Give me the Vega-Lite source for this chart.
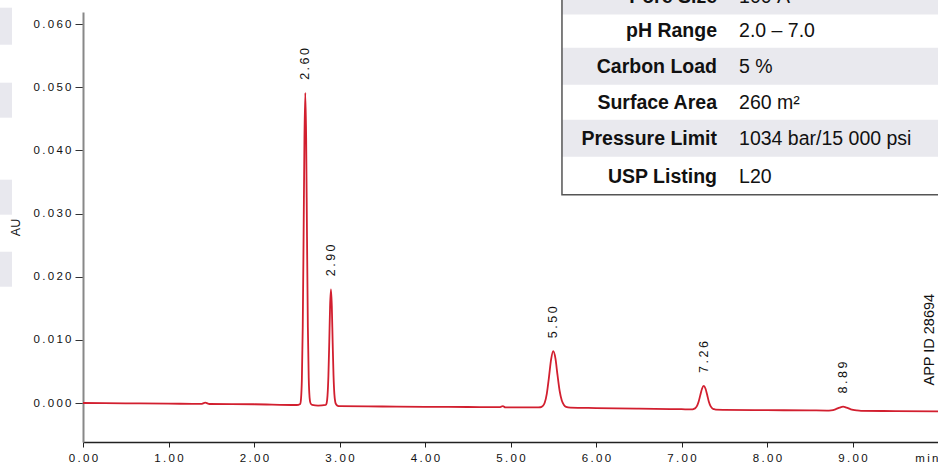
{
  "$schema": "https://vega.github.io/schema/vega-lite/v6.json",
  "width": 855,
  "height": 430,
  "autosize": {"type": "none"},
  "padding": {"left": 83, "top": 12, "right": 0, "bottom": 21},
  "background": "white",
  "config": {
    "view": {"stroke": null},
    "font": "Liberation Sans",
    "axis": {"labelFont": "Liberation Sans", "titleFont": "Liberation Sans", "grid": false}
  },
  "datasets": {
    "chrom": [
      {"t": 0.00, "au": 0.0000}, {"t": 0.50, "au": -0.00005}, {"t": 1.00, "au": -0.0001},
      {"t": 1.38, "au": -0.00015}, {"t": 1.43, "au": 0.00005}, {"t": 1.48, "au": -0.00016},
      {"t": 2.00, "au": -0.0002}, {"t": 2.50, "au": -0.00032}, {"t": 2.54, "au": -0.00015},
      {"t": 2.55, "au": 0.0007}, {"t": 2.56, "au": 0.0038}, {"t": 2.57, "au": 0.0120},
      {"t": 2.58, "au": 0.0263}, {"t": 2.59, "au": 0.0420}, {"t": 2.60, "au": 0.0491},
      {"t": 2.61, "au": 0.0420}, {"t": 2.62, "au": 0.0263}, {"t": 2.63, "au": 0.0120},
      {"t": 2.64, "au": 0.0040}, {"t": 2.65, "au": 0.0009}, {"t": 2.66, "au": 0.0000},
      {"t": 2.68, "au": -0.0003}, {"t": 2.75, "au": -0.0004}, {"t": 2.84, "au": -0.0003},
      {"t": 2.85, "au": 0.0000}, {"t": 2.86, "au": 0.0012}, {"t": 2.87, "au": 0.0042},
      {"t": 2.88, "au": 0.0095}, {"t": 2.89, "au": 0.0154}, {"t": 2.90, "au": 0.0180},
      {"t": 2.91, "au": 0.0154}, {"t": 2.92, "au": 0.0096}, {"t": 2.93, "au": 0.0044},
      {"t": 2.94, "au": 0.0014}, {"t": 2.95, "au": 0.0002}, {"t": 2.96, "au": -0.0002},
      {"t": 2.98, "au": -0.00045}, {"t": 3.00, "au": -0.0005}, {"t": 3.50, "au": -0.00055},
      {"t": 4.00, "au": -0.0006}, {"t": 4.50, "au": -0.00063}, {"t": 4.88, "au": -0.00066},
      {"t": 4.91, "au": -0.00048}, {"t": 4.94, "au": -0.0007}, {"t": 5.30, "au": -0.0007},
      {"t": 5.35, "au": -0.00067}, {"t": 5.375, "au": -0.0005}, {"t": 5.40, "au": 0.00005},
      {"t": 5.425, "au": 0.0015}, {"t": 5.45, "au": 0.0041}, {"t": 5.475, "au": 0.0069},
      {"t": 5.50, "au": 0.0082}, {"t": 5.525, "au": 0.0071}, {"t": 5.55, "au": 0.0044},
      {"t": 5.575, "au": 0.0019}, {"t": 5.60, "au": 0.0004}, {"t": 5.625, "au": -0.0003},
      {"t": 5.65, "au": -0.0006}, {"t": 5.70, "au": -0.00072}, {"t": 6.00, "au": -0.0008},
      {"t": 6.50, "au": -0.0009}, {"t": 7.00, "au": -0.00098}, {"t": 7.12, "au": -0.00102},
      {"t": 7.14, "au": -0.00096}, {"t": 7.16, "au": -0.00084}, {"t": 7.18, "au": -0.0005},
      {"t": 7.20, "au": 0.0002}, {"t": 7.22, "au": 0.00125}, {"t": 7.24, "au": 0.00226},
      {"t": 7.26, "au": 0.0027}, {"t": 7.28, "au": 0.0023}, {"t": 7.30, "au": 0.0013},
      {"t": 7.32, "au": 0.0002}, {"t": 7.34, "au": -0.0005}, {"t": 7.36, "au": -0.00085},
      {"t": 7.38, "au": -0.00098}, {"t": 7.40, "au": -0.00105}, {"t": 7.50, "au": -0.00108},
      {"t": 8.00, "au": -0.00113}, {"t": 8.50, "au": -0.00117}, {"t": 8.70, "au": -0.0012},
      {"t": 8.75, "au": -0.00116}, {"t": 8.80, "au": -0.0010}, {"t": 8.85, "au": -0.00072},
      {"t": 8.89, "au": -0.00058}, {"t": 8.93, "au": -0.00072}, {"t": 8.98, "au": -0.0010},
      {"t": 9.05, "au": -0.00118}, {"t": 9.10, "au": -0.00124}, {"t": 9.50, "au": -0.00128},
      {"t": 10.00, "au": -0.00133}
    ],
    "peaks": [
      {"t": 2.60, "au": 0.0491, "label": "2.60"},
      {"t": 2.90, "au": 0.0180, "label": "2.90"},
      {"t": 5.50, "au": 0.0082, "label": "5.50"},
      {"t": 7.26, "au": 0.0027, "label": "7.26"},
      {"t": 8.89, "au": -0.00055, "label": "8.89"}
    ],
    "sidebars": [
      {"t": -0.9708, "t2": -0.8304, "au": 0.06258, "au2": 0.05672},
      {"t": -0.9708, "t2": -0.8304, "au": 0.05071, "au2": 0.04517},
      {"t": -0.9708, "t2": -0.8304, "au": 0.03535, "au2": 0.02981},
      {"t": -0.9708, "t2": -0.8304, "au": 0.02395, "au2": 0.01841}
    ],
    "tablebox": [
      {"t": 5.602, "t2": 10.4, "au": 0.03298, "au2": 0.0690}
    ],
    "tablerows": [
      {"label": "Pore Size", "value": "100 Å", "t": 5.602, "t2": 10.4, "tl": 7.415, "tv": 7.673, "au": 0.06150, "au2": 0.06900, "ymid": 0.06420, "shade": "gray"},
      {"label": "pH Range", "value": "2.0 – 7.0", "t": 5.602, "t2": 10.4, "tl": 7.415, "tv": 7.673, "au": 0.05625, "au2": 0.06150, "ymid": 0.05890, "shade": "white"},
      {"label": "Carbon Load", "value": "5 %", "t": 5.602, "t2": 10.4, "tl": 7.415, "tv": 7.673, "au": 0.05039, "au2": 0.05625, "ymid": 0.05315, "shade": "gray"},
      {"label": "Surface Area", "value": "260 m²", "t": 5.602, "t2": 10.4, "tl": 7.415, "tv": 7.673, "au": 0.04485, "au2": 0.05039, "ymid": 0.04745, "shade": "white"},
      {"label": "Pressure Limit", "value": "1034 bar/15 000 psi", "t": 5.602, "t2": 10.4, "tl": 7.415, "tv": 7.673, "au": 0.03899, "au2": 0.04485, "ymid": 0.04175, "shade": "gray"},
      {"label": "USP Listing", "value": "L20", "t": 5.602, "t2": 10.4, "tl": 7.415, "tv": 7.673, "au": 0.03298, "au2": 0.03899, "ymid": 0.03580, "shade": "white"}
    ],
    "appid": [
      {"t": 9.906, "au": 0.01002, "label": "APP ID 28694"}
    ]
  },
  "layer": [
    {
      "data": {"name": "chrom"},
      "mark": {"type": "line", "color": "#d21f2f", "strokeWidth": 1.8, "interpolate": "monotone"},
      "encoding": {
        "x": {
          "field": "t", "type": "quantitative", "title": "",
          "scale": {"domain": [0, 10], "nice": false, "zero": false},
          "axis": {
            "title": "",
            "values": [0, 1, 2, 3, 4, 5, 6, 7, 8, 9, 10],
            "labelExpr": "join(split(datum.value == 10 ? 'min' : format(datum.value, '.2f'), ''), '\u2009')",
            "labelAlign": {"condition": {"test": "datum.value == 10", "value": "right"}, "value": "center"},
            "labelFlush": false,
            "labelOverlap": false,
            "labelFontSize": 11.5,
            "labelColor": "#111",
            "labelPadding": 5,
            "tickSize": 5,
            "tickColor": "#222",
            "domainColor": "#222",
            "domainWidth": 1.5
          }
        },
        "y": {
          "field": "au", "type": "quantitative", "title": "AU",
          "scale": {"domain": [-0.006174, 0.0619], "nice": false, "zero": false},
          "axis": {
            "title": "AU",
            "titleFontSize": 12.5,
            "titleFontWeight": "normal",
            "titleColor": "#111",
            "titlePadding": 11,
            "values": [0, 0.01, 0.02, 0.03, 0.04, 0.05, 0.06],
            "labelExpr": "join(split(format(datum.value, '.3f'), ''), '\u2009')",
            "labelFontSize": 11.5,
            "labelColor": "#111",
            "labelPadding": 4,
            "tickSize": 8,
            "tickColor": "#333",
            "domainColor": "#888",
            "domainWidth": 2
          }
        }
      }
    },
    {
      "data": {"name": "peaks"},
      "mark": {
        "type": "text", "angle": 270, "align": "left", "baseline": "middle",
        "dx": 13, "fontSize": 12.5, "color": "#111",
        "text": {"expr": "join(split(datum.label, ''), '\u2009')"}
      },
      "encoding": {
        "x": {"field": "t", "type": "quantitative"},
        "y": {"field": "au", "type": "quantitative"}
      }
    },
    {
      "data": {"name": "sidebars"},
      "mark": {"type": "rect", "color": "#e8e8ee"},
      "encoding": {
        "x": {"field": "t", "type": "quantitative"},
        "x2": {"field": "t2"},
        "y": {"field": "au", "type": "quantitative"},
        "y2": {"field": "au2"}
      }
    },
    {
      "data": {"name": "tablebox"},
      "mark": {"type": "rect", "fill": "white"},
      "encoding": {
        "x": {"field": "t", "type": "quantitative"},
        "x2": {"field": "t2"},
        "y": {"field": "au", "type": "quantitative"},
        "y2": {"field": "au2"}
      }
    },
    {
      "data": {"name": "tablerows"},
      "transform": [{"filter": "datum.shade == 'gray'"}],
      "mark": {"type": "rect", "fill": "#e9e9ee"},
      "encoding": {
        "x": {"field": "t", "type": "quantitative"},
        "x2": {"field": "t2"},
        "y": {"field": "au", "type": "quantitative"},
        "y2": {"field": "au2"}
      }
    },
    {
      "data": {"name": "tablebox"},
      "mark": {"type": "rect", "fill": null, "stroke": "#555", "strokeWidth": 1.5},
      "encoding": {
        "x": {"field": "t", "type": "quantitative"},
        "x2": {"field": "t2"},
        "y": {"field": "au", "type": "quantitative"},
        "y2": {"field": "au2"}
      }
    },
    {
      "data": {"name": "tablerows"},
      "mark": {"type": "text", "align": "right", "baseline": "middle", "fontSize": 19.5, "fontWeight": "bold", "color": "#111"},
      "encoding": {
        "x": {"field": "tl", "type": "quantitative"},
        "y": {"field": "ymid", "type": "quantitative"},
        "text": {"field": "label"}
      }
    },
    {
      "data": {"name": "tablerows"},
      "mark": {"type": "text", "align": "left", "baseline": "middle", "fontSize": 19.5, "color": "#111"},
      "encoding": {
        "x": {"field": "tv", "type": "quantitative"},
        "y": {"field": "ymid", "type": "quantitative"},
        "text": {"field": "value"}
      }
    },
    {
      "data": {"name": "appid"},
      "mark": {"type": "text", "angle": 270, "align": "center", "baseline": "middle", "fontSize": 14.5, "color": "#111"},
      "encoding": {
        "x": {"field": "t", "type": "quantitative"},
        "y": {"field": "au", "type": "quantitative"},
        "text": {"field": "label"}
      }
    }
  ]
}
